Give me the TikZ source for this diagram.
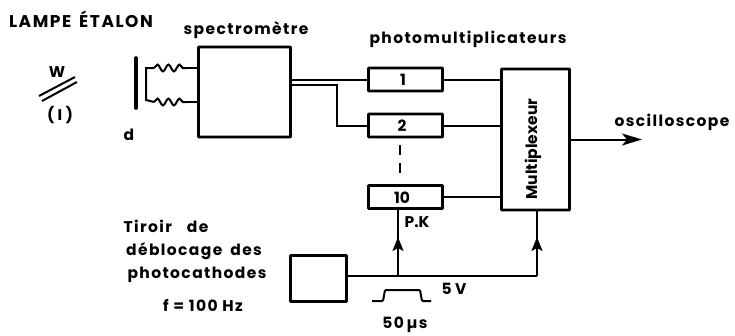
\documentclass[tikz,border=0pt]{standalone}
\usepackage{fontspec}
\setmainfont{Poppins}
\newfontfamily\spacedA{Poppins}[LetterSpace=9]
\usetikzlibrary{arrows.meta,decorations.pathmorphing,calc}
\tikzset{
  x=1pt,y=-1pt,
  every node/.style={inner sep=0pt,outer sep=0pt},
  lbl/.style={font=\fontsize{15.5}{18}\selectfont\bfseries,text=black},
  lbls/.style={font=\fontsize{15.5}{18}\selectfont\spacedA\bfseries,text=black},
  lblw/.style={font=\fontsize{17}{20}\selectfont\spacedA\bfseries,text=black},
  box/.style={draw,line width=2.8pt,rounded corners=0.6pt},
  wire/.style={line width=2pt},
  arrowed/.style={wire,-{Stealth[length=14pt,width=11pt,inset=3pt]}},
  outarrow/.style={wire,-{Stealth[length=20pt,width=12pt,inset=5pt]}},
  coil/.style={wire,decorate,decoration={snake,segment length=11pt,amplitude=3.4pt}},
}
\newcommand{\pbox}[5]{\node[box,minimum width=#4pt,minimum height=#5pt,anchor=center] (#1) at (#2,#3) {};}
\begin{document}
\begin{tikzpicture}
\useasboundingbox (0,0) rectangle (735,335);
% boxes
\pbox{spec}{244.5}{92}{92}{90}
\pbox{pmA}{405.5}{79.5}{74}{23}
\pbox{pmB}{405.5}{125.5}{74}{23}
\pbox{pmC}{405.5}{197}{74}{23}
\pbox{mux}{535.5}{139.5}{68}{141}
\pbox{tir}{318.5}{278.5}{56}{46}
% numbers in boxes
\node[lbl] (nA) at (403,80) {1};
\node[lbl] (nB) at (402,126) {2};
\node[lbl] (nC) at (402,198) {10};
\node[lbl,rotate=90] (muxt) at (533,149) {Multiplexeur};
% labels
\node[lblw] (lampe) at (81,19) {LAMPE\hspace{8pt}ÉTALON};
\node[lbls] (sp) at (246,30) {spectromètre};
\node[lbls] (ph) at (468,39) {photomultiplicateurs};
\node[lbls] (os) at (672,122) {oscilloscope};
\node[lbl] (w) at (57,72) {W};
\node[lbl] (ione) at (60,115) {( I )};
\node[lbl] (d) at (129,135) {d};
\node[lbls] (t1) at (166,226) {Tiroir\hspace{15pt}de};
\node[lbls] (t2) at (194,251) {déblocage\hspace{8pt}des};
\node[lbls] (t3) at (197,275) {photocathodes};
\node[lbls] (f) at (203,305) {f = 100 Hz};
\node[lbl] (pk) at (417,222) {P.K};
\node[lbl] (fv) at (454,289) {5 V};
\node[lbls] (mus) at (405,325) {50\,µs};
% lamp
\coordinate (la) at (39,96);
\coordinate (lb) at (75,77);
\coordinate (lc) at (42,101);
\coordinate (ld) at (77,82);
\draw[wire] (la) -- (lb);
\draw[wire] (lc) -- (ld);
% slit
\coordinate (da) at (136,58);
\coordinate (db) at (136,108);
\draw[line width=3.6pt,line cap=round] (da) -- (db);
% fibres
\coordinate (ca) at (146,68);
\coordinate (cb) at (146,100);
\coordinate (c1) at (154,68);
\coordinate (c2) at (187,68);
\coordinate (c3) at (154,102);
\coordinate (c4) at (187,102);
\draw[wire] (c1) -- (ca) -- (cb) -- (c3);
\draw[coil] (c1) -- (c2);
\draw[coil] (c3) -- (c4);
\draw[wire] (c2) -- (c2 -| spec.west);
\draw[wire] (c4) -- (c4 -| spec.west);
% spectro -> PM
\draw[wire] (spec.east |- pmA.west) -- (pmA.west);
\coordinate (bend) at (337,85);
\draw[wire] (spec.east |- bend) -- (bend) -- (bend |- pmB.west) -- (pmB.west);
% PM -> mux
\draw[wire] (pmA.east) -- (pmA.east -| mux.west);
\draw[wire] (pmB.east) -- (pmB.east -| mux.west);
\draw[wire] (pmC.east) -- (pmC.east -| mux.west);
% dashes
\draw[wire] (400,145) -- (400,155);
\draw[wire] (400,163) -- (400,173);
% output
\coordinate (out) at (642,139.5);
\draw[outarrow] (mux.east) -- (out);
% gate
\coordinate (j1) at (398,276);
\coordinate (j2) at (537,276);
\draw[wire] (tir.east |- j1) -- (j2);
\draw[wire] (j1) -- (j1 |- pmC.south);
\draw[wire] (j2) -- (j2 |- mux.south);
\draw[arrowed] (j1) -- (398,237);
\draw[arrowed] (j2) -- (537,237);
% pulse
\draw[wire,rounded corners=1pt] (372,301) -- (383,301) -- (385,290) -- (420,290) -- (422,301) -- (431,301);
\end{tikzpicture}
\end{document}
